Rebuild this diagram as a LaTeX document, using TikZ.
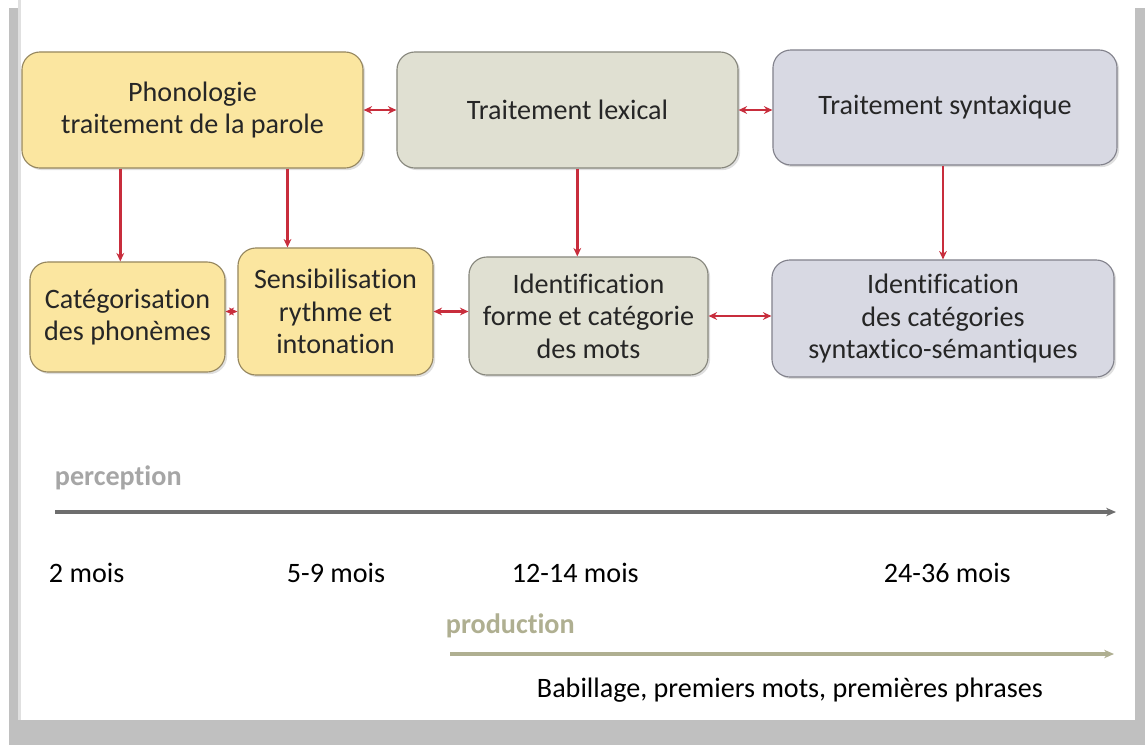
\documentclass[tikz,border=0pt]{standalone}
\usepackage{fontspec}
\setmainfont{Carlito}[Ligatures=NoCommon]
\usetikzlibrary{arrows.meta,shadows}
\definecolor{frame}{RGB}{192,192,192}
\definecolor{phonfill}{RGB}{251,230,160}
\definecolor{phonline}{RGB}{150,135,95}
\definecolor{lexfill}{RGB}{224,224,210}
\definecolor{lexline}{RGB}{135,135,125}
\definecolor{synfill}{RGB}{216,217,227}
\definecolor{synline}{RGB}{130,130,140}
\definecolor{linkred}{RGB}{200,45,60}
\definecolor{percgray}{RGB}{110,110,110}
\definecolor{prodkhaki}{RGB}{175,175,145}
\begin{document}
\begin{tikzpicture}[x=0.025cm, y=-0.025cm,
    box/.style={draw, line width=0.8pt, rounded corners=0.45cm, align=center,
      font=\fontsize{20}{23}\selectfont, text=black!85,
      drop shadow={opacity=0.25, shadow xshift=1.5pt, shadow yshift=-1.5pt}},
    phon/.style={box, fill=phonfill, draw=phonline},
    lex/.style={box, fill=lexfill, draw=lexline},
    syn/.style={box, fill=synfill, draw=synline},
    link/.style={-{Stealth[length=6pt,width=5.5pt]}, line width=2pt, linkred},
    both/.style={{Stealth[length=6pt,width=5.5pt]}-{Stealth[length=6pt,width=5.5pt]}, line width=2pt, linkred},
    age/.style={font=\fontsize{20}{23}\selectfont, anchor=west}]
  % frame
  \useasboundingbox (0,0) rectangle (1145,745);
  \fill[frame] (9,8) rectangle (1145,745);
  \fill[black!12] (18,0) rectangle (21,720);
  \fill[white] (21,0) rectangle (1135,720);
  % top row
  \node[phon, minimum width=8.525cm, minimum height=2.9cm] (phono) at (192.5,110)
    {Phonologie\\traitement de la parole};
  \node[lex, minimum width=8.525cm, minimum height=2.9cm] (lexic) at (567.5,110)
    {Traitement lexical};
  \node[syn, minimum width=8.6cm, minimum height=2.875cm] (synt) at (945,107.5)
    {Traitement syntaxique};
  % second row
  \node[phon, minimum width=4.875cm, minimum height=2.75cm] (categ) at (127.5,317)
    {Catégorisation\\des phonèmes};
  \node[phon, minimum width=4.875cm, minimum height=3.175cm] (sensib) at (335.5,311.5)
    {Sensibilisation\\rythme et\\intonation};
  \node[lex, minimum width=5.975cm, minimum height=2.95cm] (ident) at (588.5,316)
    {Identification\\forme et catégorie\\des mots};
  \node[syn, minimum width=8.55cm, minimum height=2.925cm] (identcat) at (943,318.5)
    {Identification\\des catégories\\syntaxtico-sémantiques};
  % links
  \draw[both] (phono) -- (lexic);
  \draw[both] (lexic.east) -- (synt.west |- lexic.east);
  \draw[link] ([xshift=-0.18cm]categ.north |- phono.south) -- ([xshift=-0.18cm]categ.north);
  \draw[link] ([xshift=-1.2cm]sensib.north |- phono.south) -- ([xshift=-1.2cm]sensib.north);
  \draw[link] ([xshift=-0.28cm]ident.north |- lexic.south) -- ([xshift=-0.28cm]ident.north);
  \draw[link] (identcat.north |- synt.south) -- (identcat.north);
  \draw[both] (categ.east |- sensib.east) -- (sensib.east -| sensib.west);
  \draw[both] (sensib.east) -- (ident.west |- sensib.east);
  \draw[both] (ident.east) -- (identcat.west |- ident.east);
  % time lines
  \node[font=\fontsize{20}{23}\selectfont\bfseries, text=black!35, anchor=west] (perc) at (50,478) {perception};
  \coordinate (pstart) at (55,512);
  \coordinate (pend) at (1116,512);
  \draw[-{Stealth[length=7pt,width=6pt]}, line width=2.4pt, percgray] (pstart) -- (pend);
  \node[age] (m2) at (44,573) {2 mois};
  \node[age] (m5) at (282,573) {5-9 mois};
  \node[age] (m12) at (507,573) {12-14 mois};
  \node[age] (m24) at (879,573) {24-36 mois};
  \node[font=\fontsize{20}{23}\selectfont\bfseries, text=prodkhaki, anchor=west] (prod) at (441,626) {production};
  \coordinate (qstart) at (450,654);
  \coordinate (qend) at (1114,654);
  \draw[-{Stealth[length=7pt,width=6pt]}, line width=2.4pt, prodkhaki] (qstart) -- (qend);
  \node[age] (babil) at (532,690) {Babillage, premiers mots, premières phrases};
\end{tikzpicture}
\end{document}
